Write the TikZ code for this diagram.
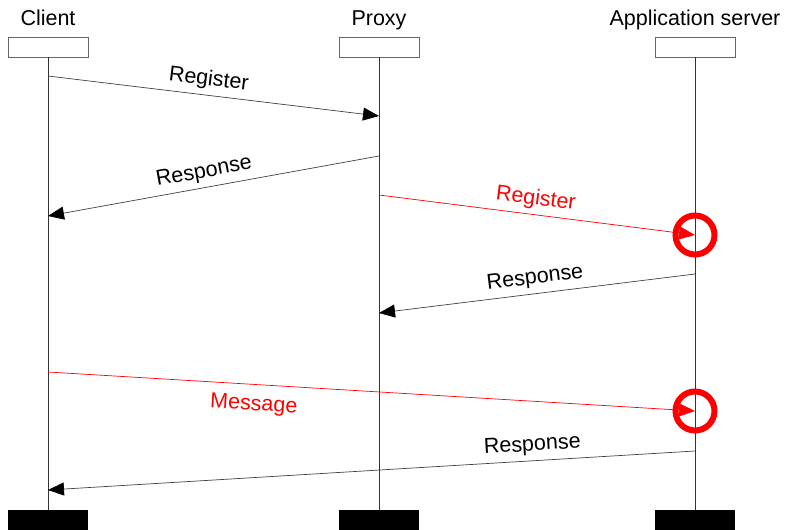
\documentclass[tikz,border=0pt]{standalone}
\usepackage{fontspec}
\setmainfont{Liberation Sans}
\usetikzlibrary{arrows.meta}
\begin{document}
\begin{tikzpicture}[x=1pt,y=-1pt,
  headbox/.style={draw=black!60,fill=white,minimum width=80pt,minimum height=20pt,inner sep=0pt},
  endbox/.style={fill=black,minimum width=80pt,minimum height=20pt,inner sep=0pt},
  title/.style={font=\fontsize{21.5}{21.5}\selectfont,anchor=base,inner sep=0pt},
  msg/.style={draw=black!75,line width=0.7pt,-{Triangle[length=16pt,width=13pt,color=black]}},
  redmsg/.style={draw=red,line width=0.7pt,-{Triangle[length=16pt,width=13pt,color=red]}},
  lbltext/.style={font=\fontsize{21.5}{21.5}\selectfont,sloped,anchor=base,inner sep=0pt},
  lbl/.style={lbltext,yshift=10pt},
  lblbelow/.style={lbltext,yshift=-26pt},
  lifeline/.style={black!80,line width=0.8pt},
  ring/.style={draw=red,line width=6pt}]

			\useasboundingbox (0,0) rectangle (785,530);

			\node[title] (clientname) at (48,25) {Client};
\node[title] (proxyname) at (379,25) {Proxy};
\node[title] (servername) at (695,25) {Application server};

			\node[headbox] (clienttop) at (48,47) {};
\node[headbox] (proxytop) at (379,47) {};
\node[headbox] (servertop) at (695,47) {};
\node[endbox] (clientend) at (48,520) {};
\node[endbox] (proxyend) at (379,520) {};
\node[endbox] (serverend) at (695,520) {};

			\draw[lifeline] (clienttop) -- (clientend);
\draw[lifeline] (proxytop) -- (proxyend);
\draw[lifeline] (servertop) -- (serverend);

			\coordinate (reg1a) at (48,76);
\coordinate (reg1b) at (379,116);
\coordinate (resp1a) at (379,156);
\coordinate (resp1b) at (48,216);
\coordinate (reg2a) at (379,195);
\coordinate (reg2b) at (695,235);
\coordinate (resp2a) at (695,274);
\coordinate (resp2b) at (379,313);
\coordinate (msga) at (48,372);
\coordinate (msgb) at (695,411);
\coordinate (resp3a) at (695,451);
\coordinate (resp3b) at (48,490);

			\draw[msg] (reg1a) -- node[lbl,pos=.48] {Register} (reg1b);
\draw[msg] (resp1a) -- node[lbl,pos=.52] {Response} (resp1b);
\draw[redmsg] (reg2a) -- node[lbl,pos=.49,text=red] {Register} (reg2b);
\draw[msg] (resp2a) -- node[lbl,pos=.5] {Response} (resp2b);
\draw[redmsg] (msga) -- node[lblbelow,pos=.32,text=red] {Message} (msgb);
\draw[msg] (resp3a) -- node[lbl,pos=.25] {Response} (resp3b);

			\draw[ring] (reg2b) circle[radius=19.5];
\draw[ring] (msgb) circle[radius=19.5];

		\end{tikzpicture}
\end{document}
